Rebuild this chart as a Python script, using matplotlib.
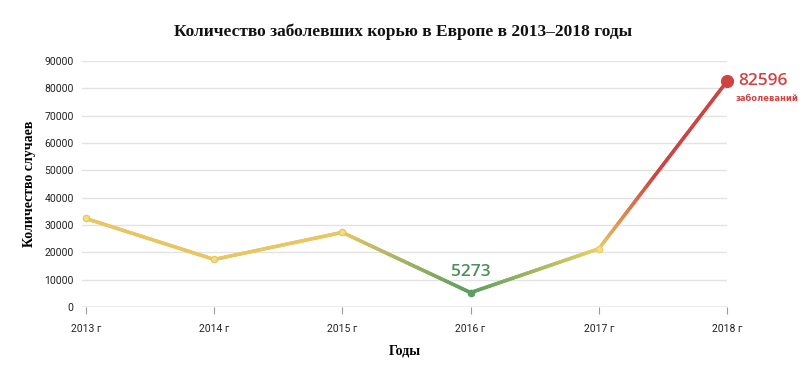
import numpy as np
import matplotlib.pyplot as plt
from matplotlib.collections import LineCollection
from matplotlib.colors import LinearSegmentedColormap

years = [2013, 2014, 2015, 2016, 2017, 2018]
cases = [32400, 17400, 27300, 5273, 21315, 82596]
x_labels = ['2013 г', '2014 г', '2015 г', '2016 г', '2017 г', '2018 г']
y_ticks = [0, 10000, 20000, 30000, 40000, 50000, 60000, 70000, 80000, 90000]

# --- цвета ---
c_yellow = '#e9c663'
c_green = '#5c9e5e'
c_red = '#cf4443'
grad = LinearSegmentedColormap.from_list('grad', [
    (0.0, c_yellow), (0.4, c_yellow), (0.6, c_green),
    (0.8, '#e9cf66'), (0.84, '#dd8a52'), (0.89, c_red), (1.0, c_red)])

fig = plt.figure(figsize=(8.07, 3.74), dpi=100)
ax = fig.add_axes([0.1016, 0.1791, 0.7993, 0.6578])

# градиентная линия
xs = np.array(years, dtype=float)
ys = np.array(cases, dtype=float)
xf = np.linspace(xs[0], xs[-1], 600)
yf = np.interp(xf, xs, ys)
pts = np.column_stack([xf, yf]).reshape(-1, 1, 2)
segs = np.concatenate([pts[:-1], pts[1:]], axis=1)
t = (xf[:-1] + xf[1:]) / 2
lc = LineCollection(segs, colors=grad((t - xs[0]) / (xs[-1] - xs[0])),
                    linewidths=2.5, capstyle='round', zorder=3, clip_on=False)
ax.add_collection(lc)

# точки
for x, y in zip(years[:-1], cases[:-1]):
    col = grad((x - xs[0]) / (xs[-1] - xs[0]))
    ax.plot(x, y, 'o', markersize=4.5, color=col, markeredgecolor=col,
            markerfacecolor='#f3df86' if x != 2016 else col, zorder=4, clip_on=False)
ax.plot(years[-1], cases[-1], 'o', markersize=8.5, color=c_red, zorder=5, clip_on=False)

# подписи
ax.text(2016, cases[3] + 4500, f'{cases[3]}', color='#4e8f5c', fontsize=12.5,
        fontweight='semibold', ha='center', va='bottom', family='Open Sans')
ax.text(2018.09, cases[5], f'{cases[5]}', color=c_red, fontsize=12.5,
        fontweight='semibold', ha='left', va='center', clip_on=False, family='Open Sans')
ax.text(2018.07, cases[5] - 6300, 'заболеваний', color=c_red, fontsize=6,
        fontweight='bold', ha='left', va='center', clip_on=False, family='DejaVu Sans')

ax.set_xlim(2013 - 0.03, 2018)
ax.set_ylim(0, 90000)
ax.set_xticks(years)
ax.set_xticklabels(x_labels)
ax.set_yticks(y_ticks)
ax.set_yticklabels([str(v) for v in y_ticks])

for v in y_ticks[1:]:
    ax.axhline(v, color='#e3e3e3', linewidth=1, zorder=1)
ax.axhline(0, color='#9a9a9a', linewidth=1, zorder=2)

for s in ax.spines.values():
    s.set_visible(False)
ax.tick_params(axis='y', length=0, pad=6, labelsize=7.5, labelcolor='#222222')
ax.tick_params(axis='x', length=5, width=0.8, color='#9a9a9a', pad=7,
               labelsize=7.5, labelcolor='#222222')
for lab in ax.get_yticklabels():
    lab.set_fontfamily('Roboto')
for lab in ax.get_xticklabels():
    lab.set_fontfamily('Roboto')

ax.set_xlabel('Годы', family='Liberation Serif', fontweight='bold', fontsize=10, labelpad=8)
ax.set_ylabel('Количество случаев', family='Liberation Serif', fontweight='bold',
              fontsize=10, labelpad=6)
fig.text(0.5, 0.915, 'Количество заболевших корью в Европе в 2013–2018 годы',
         family='Liberation Serif', fontweight='bold', fontsize=12.5,
         ha='center', va='center', color='#111111')

plt.savefig('out.png', dpi=100, facecolor='white')
